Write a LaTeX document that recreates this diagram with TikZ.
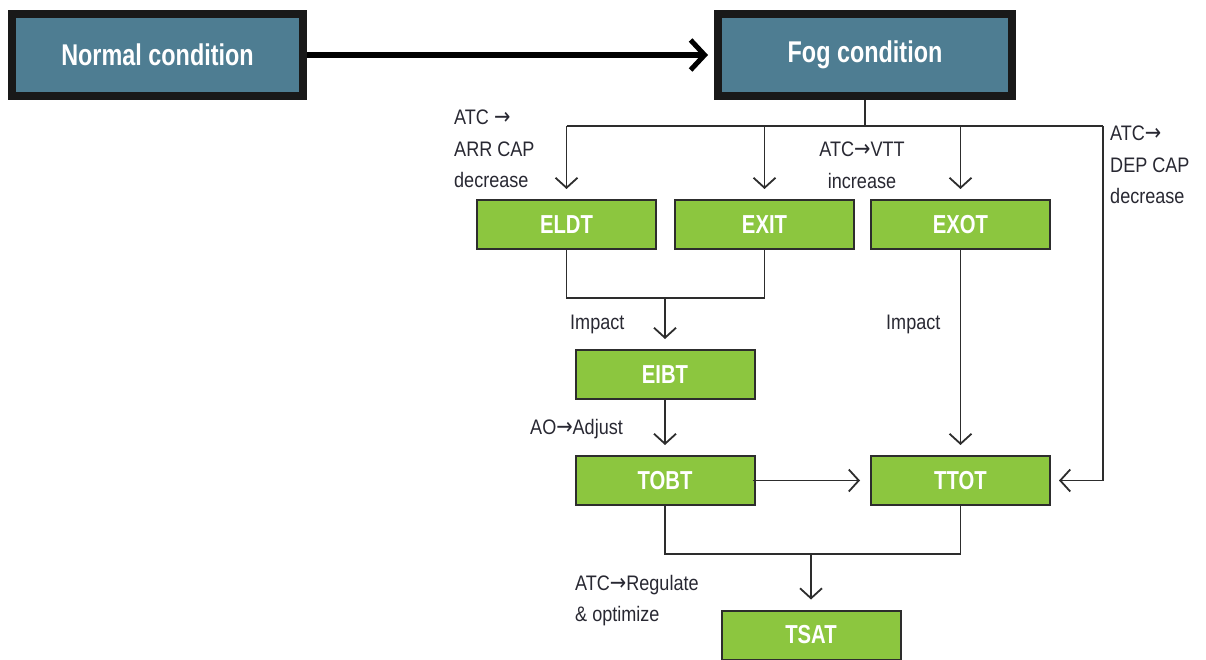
\documentclass[tikz,border=0pt]{standalone}
\usepackage{fontspec}
\setmainfont{Liberation Sans}[FakeStretch=0.86]
\newfontfamily\boxfont{Liberation Sans}[FakeStretch=0.78]
\newfontfamily\arrowfont{DejaVu Sans}[FakeStretch=0.85]
\newcommand{\ra}{{\arrowfont\fontsize{23}{31}\selectfont→}}
\usepackage{tikz}
\usetikzlibrary{
    positioning,
    arrows.meta,
    calc
}
\definecolor{fogBlue}{RGB}{78, 125, 146}
\definecolor{stepGreen}{RGB}{140, 198, 63}
\definecolor{lineGray}{RGB}{45, 45, 45}
\definecolor{noteGray}{RGB}{40, 40, 50}

\begin{document}
\begin{tikzpicture}[x=1pt, y=-1pt,
        condbox/.style={draw=black!90, line width=8pt, fill=fogBlue, text=white,
            minimum width=291pt, minimum height=82pt, inner sep=0pt,
            font=\boxfont\bfseries\fontsize{30}{32}\selectfont},
        stepbox/.style={draw=lineGray, line width=2pt, fill=stepGreen, text=white,
            minimum width=179pt, minimum height=49pt, inner sep=0pt,
            font=\boxfont\bfseries\fontsize{26}{28}\selectfont},
        note/.style={text=noteGray, inner sep=0pt, align=left,
            font=\fontsize{21}{31.5}\selectfont},
        wire/.style={draw=lineGray, line width=1.8pt},
        arr/.style={wire, -{Straight Barb[length=10pt, width=22pt, line width=1.8pt]}, shorten >=10pt}
    ]
    \useasboundingbox (0,0) rectangle (1206,660);

    % condition boxes
    \node[condbox] (Normal) at (157.5,55) {Normal condition};
    \node[condbox, minimum width=294pt] (Fog) at (865,55) {Fog condition};
    \draw[line width=6pt, -{Straight Barb[length=14pt, width=30pt, line width=5pt]}, shorten >=6pt] (Normal.east) -- (Fog.west);

    % time stamps
    \node[stepbox] (ELDT) at (566.5,224.5) {ELDT};
    \node[stepbox] (EXIT) at (764.5,224.5) {EXIT};
    \node[stepbox] (EXOT) at (960.5,224.5) {EXOT};
    \node[stepbox] (EIBT) at (665,374.5) {EIBT};
    \node[stepbox] (TOBT) at (665,480.5) {TOBT};
    \node[stepbox] (TTOT) at (960.5,480.5) {TTOT};
    \node[stepbox] (TSAT) at (811,635) {TSAT};

    % junction points
    \coordinate (bus) at (864,126);
    \coordinate (dep) at (1103,126);
    \coordinate (j1) at (665,298);
    \coordinate (j2) at (TSAT.north |- 0,554);

    % connectors
    \draw[wire] (Fog.south) -- (Fog.south |- bus);
    \draw[wire] (ELDT.north |- bus) -- (dep);
    \draw[arr] (ELDT.north |- bus) -- (ELDT.north);
    \draw[arr] (EXIT.north |- bus) -- (EXIT.north);
    \draw[arr] (EXOT.north |- bus) -- (EXOT.north);
    \draw[arr, shorten >=8pt] (dep) |- (TTOT.east);
    \draw[wire] (ELDT.south) |- (j1) -| (EXIT.south);
    \draw[arr] (j1) -- (EIBT.north);
    \draw[arr] (EIBT.south) -- (TOBT.north);
    \draw[arr] (EXOT.south) -- (TTOT.north);
    \draw[arr] ([xshift=-3pt]TOBT.east) -- (TTOT.west);
    \draw[wire] (TOBT.south) |- (j2) -| (TTOT.south);
    \draw[arr] (j2) -- (TSAT.north);

    % notes
    \node[note, anchor=north west] (arrNote) at (454,110) {ATC \ra\\ARR CAP\\decrease};
    \node[note, anchor=north, align=center] (vttNote) at (862,142) {ATC\ra VTT\\increase};
    \node[note, anchor=north west] (depNote) at (1110,126) {ATC\ra\\DEP CAP\\decrease};
    \node[note, anchor=west] (impactA) at (570,324) {Impact};
    \node[note, anchor=west] (impactB) at (886,324) {Impact};
    \node[note, anchor=west] (aoNote) at (530,429) {AO\ra Adjust};
    \node[note, anchor=north west] (tsatNote) at (575,575) {ATC\ra Regulate\\\& optimize};
\end{tikzpicture}
\end{document}
